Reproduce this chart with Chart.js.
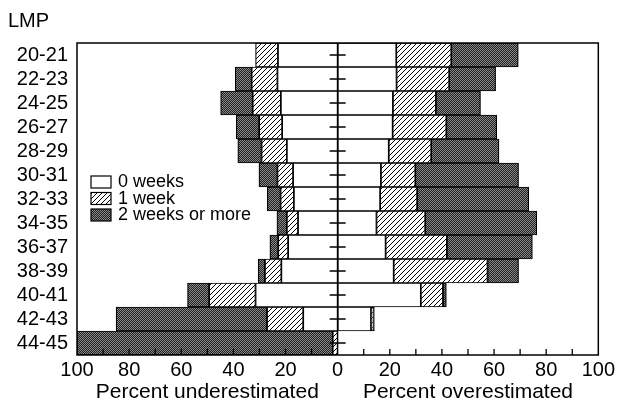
<!DOCTYPE html>
<html>
<head>
<meta charset="utf-8">
<script src="https://cdn.jsdelivr.net/npm/chart.js@4"></script>
<style>
  body { margin: 0; background: #fff; }
  #wrap { width: 618px; height: 418px; }
</style>
</head>
<body>
<div id="wrap"><canvas id="lmpChart" width="618" height="418"></canvas></div>
<script>
// ===================== DATA =====================
const categories = ['20-21', '22-23', '24-25', '26-27', '28-29', '30-31', '32-33',
  '34-35', '36-37', '38-39', '40-41', '42-43', '44-45'];

// percent underestimated (drawn to the left)
const under0 = [22.9, 23.1, 21.8, 21.3, 19.5, 17.1, 16.8, 15.2, 19.0, 21.6, 31.5, 13.2, 0];
const under1 = [8.6, 9.9, 10.8, 8.8, 9.7, 6.0, 5.1, 4.3, 3.8, 6.3, 17.8, 13.9, 1.9];
const under2 = [0, 6.3, 12.3, 8.8, 9.1, 7.1, 5.1, 3.8, 3.2, 2.6, 8.3, 57.9, 98.1];

// percent overestimated (drawn to the right)
const over0 = [22.5, 22.6, 21.2, 21.1, 19.6, 16.6, 16.3, 14.9, 18.4, 21.5, 31.9, 12.8, 0];
const over1 = [21.1, 20.2, 16.5, 20.6, 16.3, 13.2, 14.2, 18.7, 23.5, 36.0, 8.5, 0.9, 0];
const over2 = [25.7, 17.8, 17.1, 19.3, 26.0, 39.6, 42.8, 42.8, 32.8, 11.9, 1.3, 0.4, 0];

const seriesNames = ['0 weeks', '1 week', '2 weeks or more'];
const xTicks = [-100, -80, -60, -40, -20, 0, 20, 40, 60, 80, 100];

// ===================== FILL PATTERNS =====================
function hatchPattern() {
  const c = document.createElement('canvas');
  c.width = 5; c.height = 5;
  const g = c.getContext('2d');
  g.fillStyle = '#fff';
  g.fillRect(0, 0, 5, 5);
  g.strokeStyle = '#000';
  g.lineWidth = 1;
  g.beginPath();
  g.moveTo(-1, 6); g.lineTo(6, -1);
  g.moveTo(-1, 1); g.lineTo(1, -1);
  g.moveTo(4, 6); g.lineTo(6, 4);
  g.stroke();
  return g.createPattern(c, 'repeat');
}

function stipplePattern() {
  const c = document.createElement('canvas');
  c.width = 2; c.height = 2;
  const g = c.getContext('2d');
  g.fillStyle = '#222';
  g.fillRect(0, 0, 2, 2);
  g.fillStyle = '#888';
  g.fillRect(0, 0, 1, 1);
  g.fillRect(1, 1, 1, 1);
  return g.createPattern(c, 'repeat');
}

const fills = ['#ffffff', hatchPattern(), stipplePattern()];
const neg = arr => arr.map(v => (v ? -v : null));
const pos = arr => arr.map(v => (v ? v : null));

function barSet(label, data, i) {
  return {
    label: label,
    data: data,
    backgroundColor: fills[i],
    borderColor: '#000',
    borderWidth: 1.2,
    borderSkipped: false,
    stack: 'all'
  };
}

const FONT = '"Liberation Sans", Arial, Helvetica, sans-serif';

// ===================== EXTRA DRAWING =====================
const decorations = {
  id: 'decorations',
  afterDatasetsDraw(chart) {
    const ctx = chart.ctx;
    const a = chart.chartArea;
    const x = chart.scales.x;
    const y = chart.scales.y;
    const x0 = x.getPixelForValue(0);
    ctx.save();
    ctx.strokeStyle = '#000';

    // zero line and its small cross ticks
    ctx.lineWidth = 1.3;
    ctx.beginPath();
    ctx.moveTo(x0, a.top);
    ctx.lineTo(x0, a.bottom);
    categories.forEach((c, i) => {
      const py = y.getPixelForValue(i);
      ctx.moveTo(x0 - 8, py);
      ctx.lineTo(x0 + 8, py);
    });
    ctx.stroke();

    // inner ticks on the bottom axis
    ctx.beginPath();
    for (let v = -90; v <= 90; v += 10) {
      if (v === 0) continue;
      const px = x.getPixelForValue(v);
      ctx.moveTo(px, a.bottom);
      ctx.lineTo(px, a.bottom - 6);
    }
    ctx.stroke();

    // frame
    ctx.lineWidth = 1.5;
    ctx.strokeRect(a.left, a.top, a.right - a.left, a.bottom - a.top);

    // axis titles
    ctx.fillStyle = '#000';
    ctx.font = '21px ' + FONT;
    ctx.textAlign = 'center';
    ctx.textBaseline = 'middle';
    ctx.fillText('Percent underestimated', (a.left + x0) / 2, 392);
    ctx.fillText('Percent overestimated', (x0 + a.right) / 2, 392);

    // title
    ctx.textAlign = 'left';
    ctx.font = '20px ' + FONT;
    ctx.fillText('LMP', 8, 21);

    // legend
    ctx.font = '18px ' + FONT;
    seriesNames.forEach((name, i) => {
      const ly = 176 + i * 16.5;
      ctx.fillStyle = fills[i];
      ctx.fillRect(91, ly, 20, 12);
      ctx.lineWidth = 1.2;
      ctx.strokeRect(91, ly, 20, 12);
      ctx.fillStyle = '#000';
      ctx.fillText(name, 118, ly + 6.5);
    });
    ctx.restore();
  }
};

// ===================== CHART =====================
const ctx = document.getElementById('lmpChart').getContext('2d');
const lmpChart = new Chart(ctx, {
  type: 'bar',
  data: {
    labels: categories,
    datasets: [
      barSet(seriesNames[0], neg(under0), 0),
      barSet(seriesNames[1], neg(under1), 1),
      barSet(seriesNames[2], neg(under2), 2),
      barSet(seriesNames[0], pos(over0), 0),
      barSet(seriesNames[1], pos(over1), 1),
      barSet(seriesNames[2], pos(over2), 2)
    ]
  },
  options: {
    indexAxis: 'y',
    responsive: false,
    animation: false,
    layout: { padding: { top: 43, right: 16, bottom: 0, left: 0 } },
    plugins: {
      legend: { display: false },
      tooltip: { enabled: false }
    },
    datasets: { bar: { barPercentage: 1, categoryPercentage: 1 } },
    scales: {
      x: {
        stacked: true,
        min: -100,
        max: 100,
        afterBuildTicks: s => { s.ticks = xTicks.map(v => ({ value: v })); },
        afterFit: s => { s.height = 63; },
        grid: { display: false, drawTicks: false },
        border: { display: false },
        ticks: {
          color: '#000',
          font: { family: FONT, size: 20 },
          padding: 3,
          maxRotation: 0,
          autoSkip: false,
          callback: v => Math.abs(v)
        }
      },
      y: {
        stacked: true,
        afterFit: s => { s.width = 77; },
        grid: { display: false, drawTicks: false },
        border: { display: false },
        ticks: {
          color: '#000',
          font: { family: FONT, size: 20 },
          padding: 9,
          autoSkip: false
        }
      }
    }
  },
  plugins: [decorations]
});
</script>
</body>
</html>
